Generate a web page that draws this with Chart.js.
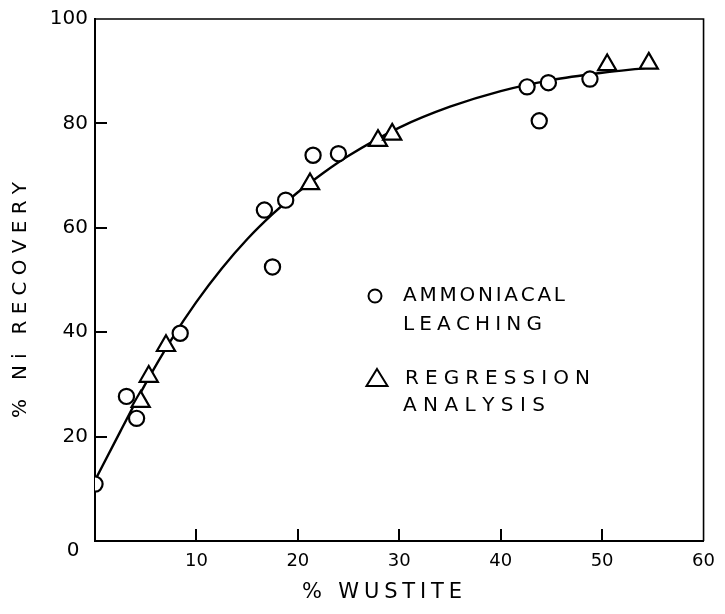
<!DOCTYPE html>
<html>
<head>
<meta charset="utf-8">
<script src="https://cdn.jsdelivr.net/npm/chart.js@4"></script>
<style>
html,body{margin:0;padding:0;background:#fff;}
#wrap{width:725px;height:614px;position:relative;}
</style>
</head>
<body>
<div id="wrap"><canvas id="c" width="725" height="614"></canvas></div>
<script>
// ---- data ----
const xTicks = [0, 10, 20, 30, 40, 50, 60];
const yTicks = [0, 20, 40, 60, 80, 100];

const leachX = [0, 3.1, 4.1, 8.4, 16.7, 17.5, 18.8, 21.5, 24.0, 42.6, 43.8, 44.7, 48.8];
const leachY = [10.9, 27.7, 23.5, 39.8, 63.4, 52.5, 65.3, 73.9, 74.2, 87.0, 80.5, 87.8, 88.5];

const regX = [4.5, 5.3, 7.0, 21.2, 27.9, 29.3, 50.5, 54.6];
const regY = [26.7, 31.5, 37.4, 68.4, 76.7, 77.9, 91.2, 91.5];

const curveX = [0, 2.5, 5, 7.5, 10, 12.5, 15, 17.5, 20, 22.5, 25, 30, 35, 40, 45, 50, 54.2];
const curveY = [11.6, 21.0, 30.2, 38.5, 45.8, 52.2, 57.8, 62.6, 66.8, 70.5, 73.8, 79.2, 83.2, 86.2, 88.3, 89.7, 90.6];

const xTitle = '% WUSTITE';
const yTitle = '% Ni RECOVERY';
const legendLines = [
  {mark: 'circle', lines: ['AMMONIACAL', 'LEACHING']},
  {mark: 'triangle', lines: ['REGRESSION', 'ANALYSIS']}
];

const toPts = (xs, ys) => xs.map((x, i) => ({x: x, y: ys[i]}));
const FONT = "'DejaVu Sans', 'Liberation Sans', sans-serif";

function drawSpaced(ctx, text, x, y, width) {
  const chars = Array.from(text);
  let natural = 0;
  chars.forEach(ch => natural += ctx.measureText(ch).width);
  const sp = chars.length > 1 ? (width - natural) / (chars.length - 1) : 0;
  let cx = x;
  chars.forEach(ch => {
    ctx.fillText(ch, cx, y);
    cx += ctx.measureText(ch).width + sp;
  });
}

const decor = {
  id: 'decor',
  afterDraw(chart) {
    const ctx = chart.ctx;
    const a = chart.chartArea;
    const xs = chart.scales.x, ys = chart.scales.y;
    ctx.save();
    ctx.strokeStyle = '#000';
    ctx.fillStyle = '#000';
    // frame top & right
    ctx.lineWidth = 1.6;
    ctx.beginPath();
    ctx.moveTo(a.left, a.top);
    ctx.lineTo(a.right, a.top);
    ctx.lineTo(a.right, a.bottom);
    ctx.stroke();
    // inward ticks
    ctx.lineWidth = 2;
    ys.ticks.forEach(t => {
      if (t.value <= ys.min || t.value >= ys.max) return;
      const p = Math.round(ys.getPixelForValue(t.value));
      ctx.beginPath(); ctx.moveTo(a.left, p); ctx.lineTo(a.left + 12, p); ctx.stroke();
    });
    xs.ticks.forEach(t => {
      if (t.value <= xs.min || t.value >= xs.max) return;
      const p = Math.round(xs.getPixelForValue(t.value));
      ctx.beginPath(); ctx.moveTo(p, a.bottom); ctx.lineTo(p, a.bottom - 12); ctx.stroke();
    });
    // origin label
    ctx.font = '20px ' + FONT;
    ctx.textAlign = 'center';
    ctx.textBaseline = 'middle';
    ctx.fillText(String(yTicks[0]), a.left - 22, ys.getPixelForValue(0) + 10);
    // axis titles
    ctx.textAlign = 'left';
    ctx.font = '21px ' + FONT;
    drawSpaced(ctx, xTitle, 302, 593, 160);
    ctx.save();
    ctx.translate(21, 418);
    ctx.rotate(-Math.PI / 2);
    ctx.font = '20px ' + FONT;
    drawSpaced(ctx, yTitle, 0, 0, 236);
    ctx.restore();
    // legend
    ctx.font = '20px ' + FONT;
    ctx.lineWidth = 2;
    ctx.beginPath(); ctx.arc(375, 296, 6.5, 0, Math.PI * 2); ctx.stroke();
    drawSpaced(ctx, legendLines[0].lines[0], 403, 296, 162);
    drawSpaced(ctx, legendLines[0].lines[1], 403, 325, 139);
    ctx.beginPath();
    ctx.moveTo(377, 369); ctx.lineTo(387.5, 386); ctx.lineTo(366.5, 386); ctx.closePath(); ctx.stroke();
    drawSpaced(ctx, legendLines[1].lines[0], 405, 379, 185);
    drawSpaced(ctx, legendLines[1].lines[1], 403, 406, 142);
    ctx.restore();
  }
};

new Chart(document.getElementById('c'), {
  type: 'scatter',
  data: {
    datasets: [
      {
        label: 'AMMONIACAL LEACHING',
        data: toPts(leachX, leachY),
        pointStyle: 'circle',
        pointRadius: 7.6,
        pointBorderWidth: 2.2,
        borderColor: '#000',
        backgroundColor: '#fff',
        order: 0
      },
      {
        label: 'REGRESSION ANALYSIS',
        data: toPts(regX, regY),
        pointStyle: 'triangle',
        pointRadius: 10.5,
        pointBorderWidth: 2.2,
        borderColor: '#000',
        backgroundColor: '#fff',
        order: 1
      },
      {
        type: 'line',
        label: 'fit',
        data: toPts(curveX, curveY),
        showLine: true,
        pointRadius: 0,
        borderWidth: 2.4,
        borderColor: '#000',
        fill: false,
        cubicInterpolationMode: 'monotone',
        order: 2
      }
    ]
  },
  options: {
    responsive: false,
    animation: false,
    events: [],
    layout: {padding: {top: 17, right: 12, left: 0, bottom: 0}},
    plugins: {legend: {display: false}, tooltip: {enabled: false}},
    scales: {
      x: {
        type: 'linear',
        min: xTicks[0], max: xTicks[xTicks.length - 1],
        afterBuildTicks: s => { s.ticks = xTicks.map(v => ({value: v})); },
        afterFit: s => { s.height = 73; },
        grid: {display: false, drawTicks: false},
        border: {display: true, width: 2, color: '#000'},
        ticks: {
          color: '#000', padding: 10,
          font: {family: FONT, size: 18},
          callback: v => (v === 0 ? '' : String(v)),
          maxRotation: 0
        }
      },
      y: {
        type: 'linear',
        min: yTicks[0], max: yTicks[yTicks.length - 1],
        afterBuildTicks: s => { s.ticks = yTicks.map(v => ({value: v})); },
        afterFit: s => { s.width = 95; },
        grid: {display: false, drawTicks: false},
        border: {display: true, width: 2, color: '#000'},
        ticks: {
          color: '#000', padding: 7,
          font: {family: FONT, size: 20},
          callback: v => (v === 0 ? '' : String(v))
        }
      }
    }
  },
  plugins: [decor]
});
</script>
</body>
</html>
